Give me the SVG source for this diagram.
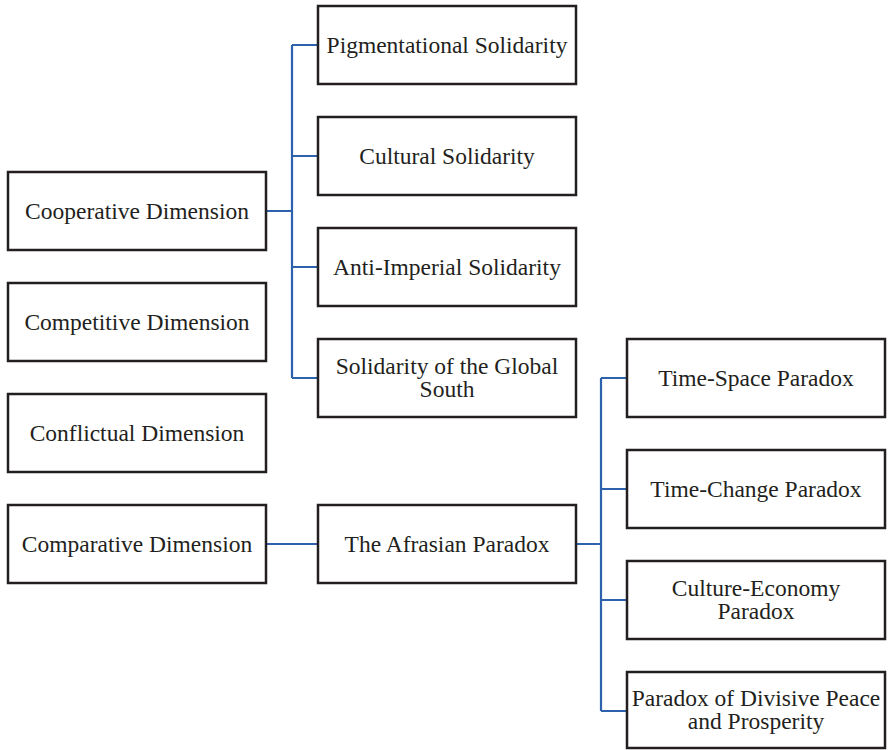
<svg xmlns="http://www.w3.org/2000/svg" width="888" height="750" viewBox="0 0 888 750">
<style>
.box{fill:#fff;stroke:#231f20;stroke-width:2.5}
.t{font-family:"Liberation Serif","Times New Roman",serif;font-size:23.5px;fill:#231f20;text-anchor:middle}
.c{fill:none;stroke:#2e62ad;stroke-width:2.2}
</style>
<rect width="888" height="750" fill="#fff"/>
<g id="connectors">
<path class="c" d="M266 211H292M292 45V378M292 45H318M292 156H318M292 267H318M292 378H318"/>
<path class="c" d="M266 544H318M576 544H601M601 378V711M601 378H627M601 489H627M601 600H627M601 711H627"/>
</g>
<g id="cooperative"><rect class="box" x="8" y="172" width="258" height="78"/><text class="t" x="137" y="219">Cooperative Dimension</text></g>
<g id="competitive"><rect class="box" x="8" y="283" width="258" height="78"/><text class="t" x="137" y="330">Competitive Dimension</text></g>
<g id="conflictual"><rect class="box" x="8" y="394" width="258" height="78"/><text class="t" x="137" y="441">Conflictual Dimension</text></g>
<g id="comparative"><rect class="box" x="8" y="505" width="258" height="78"/><text class="t" x="137" y="552">Comparative Dimension</text></g>
<g id="pigmentational"><rect class="box" x="318" y="6" width="258" height="78"/><text class="t" x="447" y="53">Pigmentational Solidarity</text></g>
<g id="cultural"><rect class="box" x="318" y="117" width="258" height="78"/><text class="t" x="447" y="164">Cultural Solidarity</text></g>
<g id="antiimperial"><rect class="box" x="318" y="228" width="258" height="78"/><text class="t" x="447" y="275">Anti-Imperial Solidarity</text></g>
<g id="globalsouth"><rect class="box" x="318" y="339" width="258" height="78"/><text class="t" x="447" y="374">Solidarity of the Global</text><text class="t" x="447" y="397">South</text></g>
<g id="afrasian"><rect class="box" x="318" y="505" width="258" height="78"/><text class="t" x="447" y="552">The Afrasian Paradox</text></g>
<g id="timespace"><rect class="box" x="627" y="339" width="258" height="78"/><text class="t" x="756" y="386">Time-Space Paradox</text></g>
<g id="timechange"><rect class="box" x="627" y="450" width="258" height="78"/><text class="t" x="756" y="497">Time-Change Paradox</text></g>
<g id="cultureeconomy"><rect class="box" x="627" y="561" width="258" height="78"/><text class="t" x="756" y="596">Culture-Economy</text><text class="t" x="756" y="619">Paradox</text></g>
<g id="divisive"><rect class="box" x="627" y="672" width="258" height="76"/><text class="t" x="756" y="706">Paradox of Divisive Peace</text><text class="t" x="756" y="729">and Prosperity</text></g>
</svg>
